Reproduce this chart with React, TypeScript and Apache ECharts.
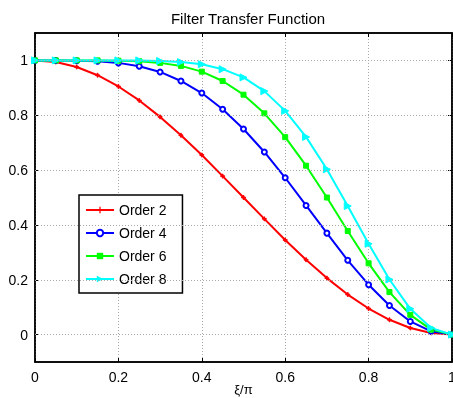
import React, { useEffect, useRef } from "react";
import * as echarts from "echarts";

// Normalised frequency samples and filter responses
const xi = [0, 0.05, 0.1, 0.15, 0.2, 0.25, 0.3, 0.35, 0.4, 0.45, 0.5, 0.55, 0.6, 0.65, 0.7, 0.75, 0.8, 0.85, 0.9, 0.95, 1];
const order2 = [1, 0.994, 0.976, 0.946, 0.905, 0.854, 0.794, 0.727, 0.655, 0.578, 0.5, 0.422, 0.345, 0.273, 0.206, 0.146, 0.095, 0.054, 0.024, 0.006, 0];
const order4 = [1, 1.0, 0.999, 0.997, 0.991, 0.979, 0.958, 0.925, 0.881, 0.822, 0.75, 0.666, 0.572, 0.471, 0.37, 0.271, 0.182, 0.106, 0.048, 0.012, 0];
const order6 = [1, 1, 1, 1.0, 0.999, 0.997, 0.991, 0.98, 0.959, 0.925, 0.875, 0.807, 0.72, 0.616, 0.5, 0.378, 0.26, 0.155, 0.072, 0.018, 0];
const order8 = [1, 1, 1, 1, 1.0, 1.0, 0.998, 0.994, 0.986, 0.968, 0.938, 0.888, 0.816, 0.721, 0.603, 0.469, 0.331, 0.201, 0.094, 0.024, 0];

const seriesNames = ["Order 2", "Order 4", "Order 6", "Order 8"];
const yTicks = [0, 0.2, 0.4, 0.6, 0.8, 1];

const FONT = "Liberation Sans, Arial, Helvetica, sans-serif";
const plus = "path://M2,0H3V2H5V3H3V5H2V3H0V2H2Z";
const GRID_LINE = { color: "#a8a8a8", type: [1, 2], width: 1 };
const AXIS_LINE = { color: "#000", width: 1.5 };

export default function App() {
  const ref = useRef<HTMLDivElement>(null);

  useEffect(() => {
    if (!ref.current) return;
    const chart = echarts.init(ref.current, undefined, { renderer: "svg" });
    const fmt = (v: number) => String(+(+v).toFixed(1));
    const pair = (ys: number[]) => xi.map((x, i) => [x, ys[i]]);

    const baseSeries = (name: string, color: string, ys: number[], extra: any) => ({
      name,
      type: "line",
      data: pair(ys),
      lineStyle: { color, width: 2 },
      itemStyle: { color, borderColor: color },
      color,
      ...extra,
    });

    chart.setOption({
      animation: false,
      textStyle: { fontFamily: FONT },
      title: {
        text: "Filter Transfer Function",
        left: 243,
        textAlign: "center",
        top: 6,
        textStyle: { fontSize: 15, fontWeight: "normal", color: "#000", fontFamily: FONT },
      },
      grid: {
        left: 35,
        right: 1,
        top: 33,
        bottom: 36,
        outerBoundsMode: "none",
        containLabel: false,
        show: true,
        borderColor: "#000",
        borderWidth: 1.5,
        backgroundColor: "#fff",
      },
      legend: {
        orient: "vertical",
        left: 79,
        top: 195,
        padding: [8, 16, 7, 6],
        itemWidth: 28,
        itemHeight: 8,
        itemGap: 9,
        borderColor: "#000",
        borderWidth: 1.5,
        backgroundColor: "#fff",
        data: seriesNames,
        textStyle: { fontSize: 14, color: "#000", fontFamily: FONT },
      },
      xAxis: [
        {
          type: "value",
          min: 0,
          max: 1,
          interval: 0.2,
          name: "ξ/π",
          nameLocation: "middle",
          nameGap: 21,
          nameMoveOverlap: false,
          nameTextStyle: { fontSize: 13, color: "#000", fontFamily: FONT },
          axisLine: { show: true, onZero: false, lineStyle: AXIS_LINE },
          axisTick: { show: true, inside: true, length: 4, lineStyle: { color: "#000" } },
          axisLabel: { fontSize: 14, color: "#000", margin: 8, formatter: fmt, fontFamily: FONT },
          splitLine: { show: true, lineStyle: GRID_LINE },
        },
        {
          type: "value",
          position: "top",
          min: 0,
          max: 1,
          interval: 0.2,
          axisLine: { show: true, onZero: false, lineStyle: AXIS_LINE },
          axisTick: { show: true, inside: true, length: 4, lineStyle: { color: "#000" } },
          axisLabel: { show: false },
          splitLine: { show: false },
        },
      ],
      yAxis: [
        {
          type: "value",
          min: -0.1,
          max: 1.1,
          axisLine: { show: true, onZero: false, lineStyle: AXIS_LINE },
          axisTick: { show: true, inside: true, length: 4, customValues: yTicks, lineStyle: { color: "#000" } },
          axisLabel: { fontSize: 14, color: "#000", margin: 7, customValues: yTicks, formatter: fmt, fontFamily: FONT },
          splitLine: { show: false },
        },
        {
          type: "value",
          position: "right",
          min: -0.1,
          max: 1.1,
          axisLine: { show: true, onZero: false, lineStyle: AXIS_LINE },
          axisTick: { show: true, inside: true, length: 4, customValues: yTicks, lineStyle: { color: "#000" } },
          axisLabel: { show: false },
          splitLine: { show: false },
        },
      ],
      series: [
        // horizontal dotted grid lines at the y tick values
        {
          type: "line",
          data: [],
          silent: true,
          markLine: {
            silent: true,
            symbol: ["none", "none"],
            label: { show: false },
            lineStyle: GRID_LINE,
            data: yTicks.map((v) => ({ yAxis: v })),
          },
        },
        baseSeries(seriesNames[0], "#ff0000", order2, { symbol: plus, symbolSize: 4 }),
        baseSeries(seriesNames[1], "#0000ff", order4, {
          symbol: "emptyCircle",
          symbolSize: 5,
          itemStyle: { color: "#0000ff", borderColor: "#0000ff", borderWidth: 1.5 },
        }),
        baseSeries(seriesNames[2], "#00ff00", order6, { symbol: "rect", symbolSize: 5 }),
        baseSeries(seriesNames[3], "#00ffff", order8, { symbol: "triangle", symbolSize: 7, symbolRotate: -90 }),
      ],
    });

    return () => chart.dispose();
  }, []);

  return <div ref={ref} style={{ position: "fixed", left: 0, top: 0, width: 453, height: 398 }} />;
}
